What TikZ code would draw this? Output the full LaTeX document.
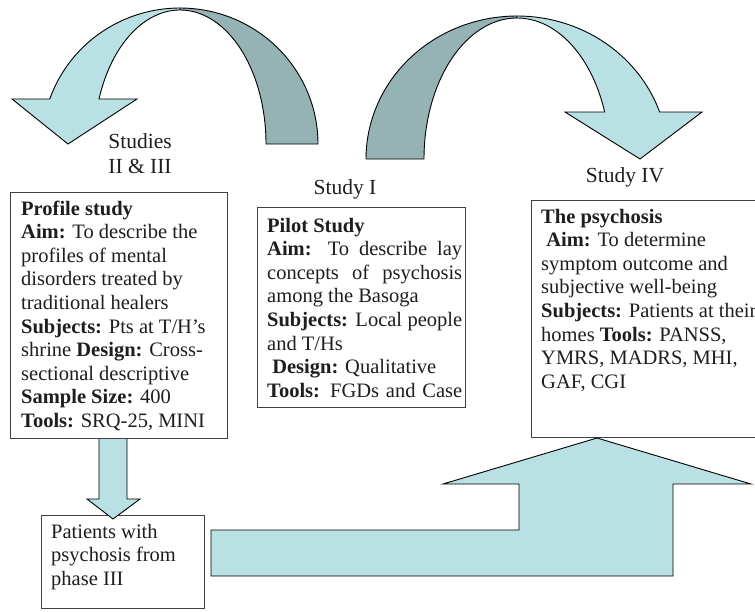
\documentclass[tikz,border=0pt]{standalone}
\usepackage{fontspec}
\setmainfont{Liberation Serif}
\usetikzlibrary{calc}
\definecolor{lightc}{RGB}{185,224,227}
\definecolor{darkc}{RGB}{149,179,181}
\definecolor{boxc}{RGB}{64,64,64}
\definecolor{txt}{RGB}{30,30,30}
\begin{document}
\begin{tikzpicture}[x=1pt,y=-1pt,
  boxst/.style={draw=boxc, line width=1.3pt, fill=white, inner sep=0pt, anchor=north west},
  bodytext/.style={font=\fontsize{20.5}{23.6}\selectfont, text=txt, inner sep=0pt, anchor=base west, align=left},
  labeltext/.style={font=\fontsize{21.5}{25}\selectfont, text=txt, inner sep=0pt, anchor=base, align=center},
  arrowst/.style={draw=black, line width=0.9pt, line join=miter}]
\path[use as bounding box, fill=white] (0,0) rectangle (755,611);
\begin{scope}
\clip (0,0) rectangle (755,611);
% left curved arrow (Study I -> Studies II & III)
\path[arrowst, fill=darkc] plot[domain=270:360, samples=60] ({180+138*cos(\x)},{144+136*sin(\x)})
  -- plot[domain=360:270, samples=60] ({180+86*cos(\x)},{144+134*sin(\x)}) -- cycle;
\path[arrowst, fill=lightc] plot[domain=199.32:270, samples=60] ({180+138*cos(\x)},{144+136*sin(\x)})
  -- plot[domain=270:199.62, samples=60] ({180+86*cos(\x)},{144+134*sin(\x)})
  -- (137,99) -- (68,144) -- (12,99) -- cycle;
% right curved arrow (Study I -> Study IV)
\path[arrowst, fill=darkc] plot[domain=180:270, samples=60] ({517+151*cos(\x)},{159+143*sin(\x)})
  -- plot[domain=270:180, samples=60] ({517+93*cos(\x)},{159+141*sin(\x)}) -- cycle;
\path[arrowst, fill=lightc] plot[domain=270:340.81, samples=60] ({517+151*cos(\x)},{159+143*sin(\x)})
  -- (702,112) -- (640,159) -- (565,112)
  -- plot[domain=340.53:270, samples=60] ({517+93*cos(\x)},{159+141*sin(\x)}) -- cycle;
% labels
\node[labeltext] (l23) at (140,173) {Studies\\II \& III};
\node[labeltext] (l1) at (345,194) {Study I};
\node[labeltext] (l4) at (625,182) {Study IV};
% boxes
\node[boxst, minimum width=163, minimum height=93] (pat) at (41,515) {};
\path[arrowst, fill=lightc] (99,438) -- (99,499) -- (87,499) -- (113,519) -- (140,499) -- (127,499) -- (127,438) -- cycle;
\node[boxst, minimum width=217, minimum height=246] (b1) at (10,192) {};
\node[boxst, minimum width=208, minimum height=200] (b2) at (257,207) {};
\node[boxst, minimum width=240, minimum height=237] (b3) at (531,200) {};
\path[arrowst, fill=lightc] (211,530) -- (519,530) -- (519,484) -- (443,484) -- (597,438) -- (751,484) -- (673,484) -- (673,576) -- (211,576) -- cycle;
% texts (anchored at the baseline of the last line)
\node[bodytext] (b1t) at (21,427.4) {\textbf{Profile study}\\
\textbf{Aim:} To describe the\\
profiles of mental\\
disorders treated by\\
traditional healers\\
\textbf{Subjects:} Pts at T/H’s\\
shrine \textbf{Design:} Cross-\\
sectional descriptive\\
\textbf{Sample Size:} 400\\
\textbf{Tools:} SRQ-25, MINI};
\node[bodytext] (b2t) at (267,397.2) {\textbf{Pilot Study}\\
\makebox[195pt][s]{\textbf{Aim:} To describe lay}\\
\makebox[195pt][s]{concepts of psychosis}\\
among the Basoga\\
\makebox[195pt][s]{\textbf{Subjects:} Local people}\\
and T/Hs\\
\hspace*{0.25em}\textbf{Design:} Qualitative\\
\makebox[195pt][s]{\textbf{Tools:} FGDs and Case}};
\node[bodytext] (b3t) at (541,388.2) {\textbf{The psychosis}\\
\hspace*{0.25em}\textbf{Aim:} To determine\\
symptom outcome and\\
subjective well-being\\
\textbf{Subjects:} Patients at their\\
homes \textbf{Tools:} PANSS,\\
YMRS, MADRS, MHI,\\
GAF, CGI};
\node[bodytext] (patt) at (51,585.2) {Patients with\\
psychosis from\\
phase III};
\end{scope}
\end{tikzpicture}
\end{document}
